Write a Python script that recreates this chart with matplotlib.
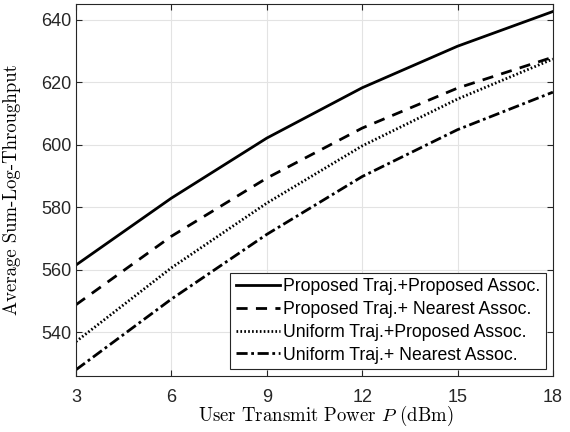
import numpy as np
import matplotlib.pyplot as plt

plt.rcParams['mathtext.fontset'] = 'cm'
plt.rcParams['axes.unicode_minus'] = False

power = [3, 6, 9, 12, 15, 18]
prop_prop = [561.5, 582.9, 602.1, 618.2, 631.5, 642.6]
prop_near = [548.8, 570.7, 589.3, 605.3, 618.1, 628.0]
unif_prop = [537.0, 560.6, 581.3, 599.6, 614.6, 627.4]
unif_near = [528.0, 550.6, 571.3, 589.8, 604.8, 616.8]
labels = ['Proposed Traj.+Proposed Assoc.',
          'Proposed Traj.+ Nearest Assoc.',
          'Uniform Traj.+Proposed Assoc.',
          'Uniform Traj.+ Nearest Assoc.']

fig = plt.figure(figsize=(5.7, 4.32), dpi=100)
ax = fig.add_axes([0.1333, 0.1296, 0.8367, 0.8611])

ax.plot(power, prop_prop, 'k-', lw=2, label=labels[0])
ax.plot(power, prop_near, 'k--', lw=2, dashes=(4, 3), label=labels[1])
ax.plot(power, unif_prop, 'k:', lw=2, dashes=(0.6, 0.8), label=labels[2])
ax.plot(power, unif_near, 'k-.', lw=2, dashes=(4, 1.3, 1, 1.3), label=labels[3])

ax.set_xlim(3, 18)
ax.set_ylim(526, 645)
ax.set_xticks([3, 6, 9, 12, 15, 18])
ax.set_yticks([540, 560, 580, 600, 620, 640])
ax.grid(True, color='#e3e3e3', lw=0.8)
ax.set_axisbelow(True)
ax.tick_params(direction='in', top=True, right=True, labelsize=13, length=4,
               color='#262626', labelcolor='#262626')
ax.tick_params(axis='x', pad=9)
ax.tick_params(axis='y', pad=3)
for lab in ax.get_xticklabels() + ax.get_yticklabels():
    lab.set_family('Liberation Sans')
for s in ax.spines.values():
    s.set_color('#262626')
    s.set_linewidth(0.8)

ax.set_xlabel('User Transmit Power $P$ (dBm)', family='cmr10', fontsize=13.5)
ax.set_ylabel('Average Sum-Log-Throughput', family='cmr10', fontsize=13.5)
ax.xaxis.set_label_coords(0.524, -0.075)
ax.yaxis.set_label_coords(-0.115, 0.5)

leg = ax.legend(loc='lower right', prop={'family': 'Liberation Sans', 'size': 12.7},
                handlelength=2.5, handletextpad=0.2, borderpad=0.3,
                labelspacing=0.33, fancybox=False, framealpha=1,
                edgecolor='#262626', borderaxespad=0.4)
leg.get_frame().set_linewidth(0.8)

fig.savefig('out.png', dpi=100)
